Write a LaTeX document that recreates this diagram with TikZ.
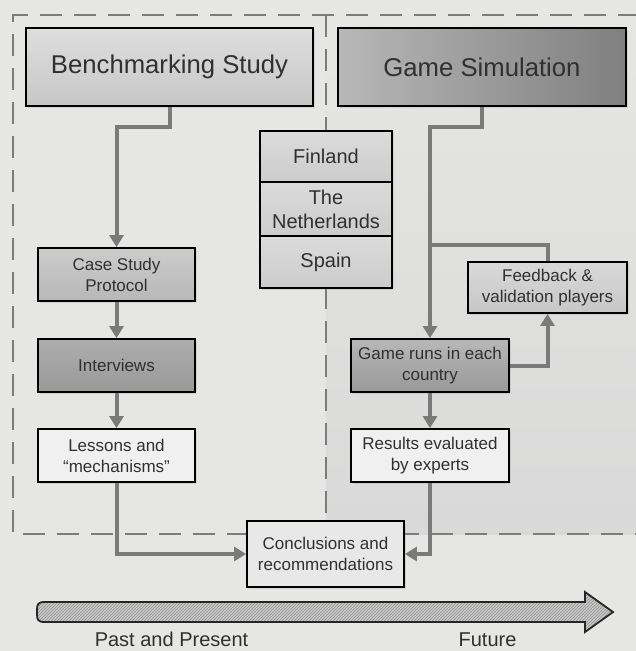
\documentclass[tikz,border=0pt]{standalone}
\usepackage{fontspec}
\setmainfont{Liberation Sans}
\usetikzlibrary{arrows.meta,patterns,shadows}

\definecolor{paper}{HTML}{E6E6E4}
\definecolor{txt}{HTML}{303030}
\definecolor{linkgray}{HTML}{7A7A7A}
\definecolor{dashgray}{HTML}{7C7C7C}

\tikzset{
  box/.style={draw=black, line width=1.8pt, text=txt, align=center, inner sep=0pt,
    font=\fontsize{17}{21}\selectfont,
    drop shadow={opacity=0.18, shadow xshift=2pt, shadow yshift=-2pt}},
  title/.style={box, font=\fontsize{25.7}{30}\selectfont},
  land/.style={box, font=\fontsize{20}{24}\selectfont, drop shadow={opacity=0},
    top color=black!14, bottom color=black!20, minimum width=132pt},
  conn/.style={draw=linkgray, line width=4pt},
  arr/.style={conn, -{Triangle[length=12pt,width=14pt]}},
  dashline/.style={draw=dashgray, line width=2pt, dash pattern=on 22pt off 12pt},
  timeline/.style={font=\fontsize{20}{24}\selectfont, text=txt, anchor=base, inner sep=0pt}
}

\begin{document}
\begin{tikzpicture}[x=1pt,y=-1pt]
  \useasboundingbox (0,0) rectangle (636,651);
  \fill[paper] (0,0) rectangle (636,651);

  % right-hand panel darkens slightly towards the bottom
  \shade[top color=paper, bottom color=black!15] (326,15) rectangle (636,534);

  % dashed frame and divider between the two studies
  \draw[dashline] (640,15) -- (13,15) -- (13,534) -- (640,534);
  \draw[dashline] (326,15) -- (326,521);

  % headers
  \node[title, minimum width=287pt, minimum height=78pt,
        top color=black!13, bottom color=black!22] (bench) at (169.5,67) {Benchmarking Study};
  \node[title, minimum width=288pt, minimum height=78pt,
        left color=black!28, right color=black!50] (game) at (482,67) {Game Simulation};

  % countries
  \node[land, minimum height=51pt] (fin) at (326,156.5) {Finland};
  \node[land, minimum height=54pt] (ned) at (326,209) {The\\Netherlands};
  \node[land, minimum height=52pt] (spa) at (326,262) {Spain};

  % benchmarking column
  \node[box, minimum width=157pt, minimum height=53pt,
        top color=black!20, bottom color=black!28] (cs) at (116.5,274.5) {Case Study\\Protocol};
  \node[box, minimum width=157pt, minimum height=53pt,
        top color=black!32, bottom color=black!40] (iv) at (116.5,365.5) {Interviews};
  \node[box, minimum width=157pt, minimum height=53pt,
        fill=black!6] (ls) at (116.5,455.5) {Lessons and\\``mechanisms''};

  % simulation column
  \node[box, minimum width=159pt, minimum height=51pt,
        top color=black!15, bottom color=black!22] (fb) at (547.5,287.5) {Feedback \&\\validation players};
  \node[box, minimum width=158pt, minimum height=53pt,
        top color=black!28, bottom color=black!40] (gr) at (430,365.5) {Game runs in each\\country};
  \node[box, minimum width=158pt, minimum height=53pt,
        fill=black!6] (rs) at (430,455.5) {Results evaluated\\by experts};

  % joint outcome
  \node[box, minimum width=157pt, minimum height=66pt,
        fill=black!9] (cc) at (325.5,554) {Conclusions and\\recommendations};

  % connectors
  \draw[arr] (bench.south) -- (bench.south |- 0,127) -| (cs.north);
  \draw[arr] (cs.south) -- (iv.north);
  \draw[arr] (iv.south) -- (ls.north);
  \draw[arr] (ls.south) |- (cc.west);

  \draw[arr] (game.south) -- (game.south |- 0,127) -| (gr.north);
  \coordinate (br) at (gr.north |- 0,245);
  \draw[conn] (br) -| (fb.north);
  \draw[arr] (gr.east) -| (fb.south);
  \draw[arr] (gr.south) -- (rs.north);
  \draw[arr] (rs.south) |- (cc.east);

  % time arrow
  \path[fill=black!22]
    (585,602) -- (45,602) .. controls (38,602) and (37,604) .. (37,610) -- (37,614)
    .. controls (37,620) and (38,622) .. (45,622) -- (585,622) -- (585,632) -- (613,612)
    -- (585,592) -- cycle;
  \path[pattern=north east lines, pattern color=black!42]
    (585,602) -- (45,602) .. controls (38,602) and (37,604) .. (37,610) -- (37,614)
    .. controls (37,620) and (38,622) .. (45,622) -- (585,622) -- (585,632) -- (613,612)
    -- (585,592) -- cycle;
  \draw[line width=1.8pt, line join=miter, black!85]
    (585,602) -- (45,602) .. controls (38,602) and (37,604) .. (37,610) -- (37,614)
    .. controls (37,620) and (38,622) .. (45,622) -- (585,622) -- (585,632) -- (613,612)
    -- (585,592) -- cycle;

  \node[timeline] (past) at (171.5,646.5) {Past and Present};
  \node[timeline] (future) at (487.5,646.5) {Future};
\end{tikzpicture}
\end{document}
